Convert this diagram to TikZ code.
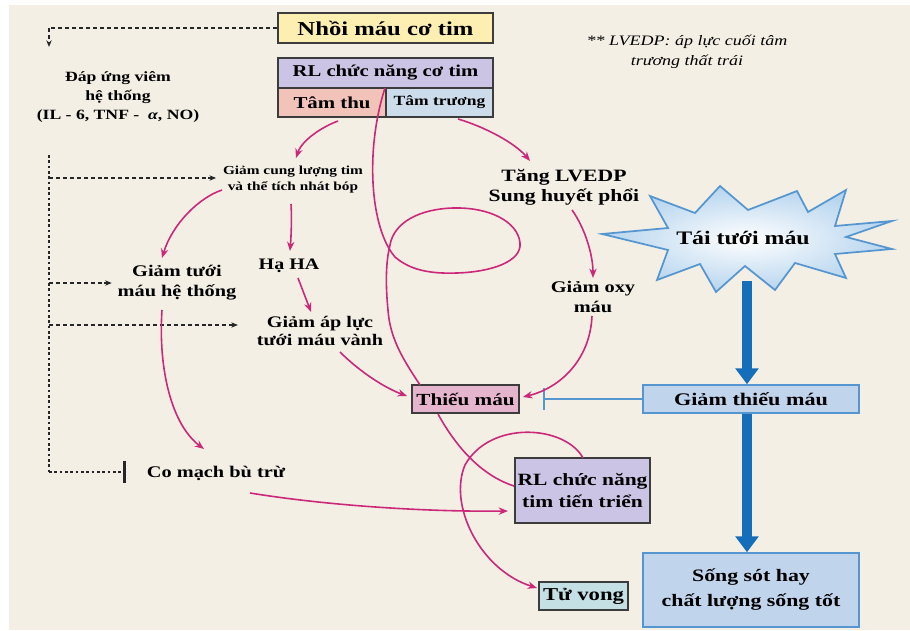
\documentclass[tikz,border=0pt]{standalone}
\usepackage{fontspec}
\setmainfont{Liberation Serif}[FakeStretch=1.25]
\usetikzlibrary{arrows.meta}
\definecolor{bg}{RGB}{243,239,229}
\definecolor{cyel}{RGB}{253,239,178}
\definecolor{clav}{RGB}{203,196,228}
\definecolor{csal}{RGB}{242,195,184}
\definecolor{clb}{RGB}{204,220,234}
\definecolor{cpinkbox}{RGB}{229,181,205}
\definecolor{cteal}{RGB}{196,224,229}
\definecolor{cbluebox}{RGB}{192,212,236}
\definecolor{cbluebord}{RGB}{85,150,208}
\definecolor{cmag}{RGB}{204,40,122}
\definecolor{cbig}{RGB}{20,110,185}
\definecolor{cdark}{RGB}{60,60,60}
\definecolor{csky}{RGB}{182,212,238}
\newcommand\fz[2]{\fontsize{#1pt}{#2pt}\selectfont}
\begin{document}
\begin{tikzpicture}[x=0.75pt,y=-0.75pt,
  box/.style={draw=cdark, line width=1pt, inner sep=0pt, align=center},
  bbox/.style={draw=cbluebord, line width=1.1pt, inner sep=0pt, align=center, fill=cbluebox},
  lbl/.style={inner sep=2pt, align=center},
  pa/.style={draw=cmag, line width=1.2pt, -{Stealth[length=7pt,width=5.5pt]}},
  pl/.style={draw=cmag, line width=1.2pt},
  da/.style={draw=black!85, line width=0.9pt, dash pattern=on 3pt off 2.2pt, -{Stealth[length=5pt,width=4pt]}},
  dl/.style={draw=black!85, line width=0.9pt, dash pattern=on 2pt off 2pt},
  big/.style={draw=cbig, line width=7.5pt, -{Triangle[length=12pt,width=17pt]}},
  bl/.style={draw=cbluebord, line width=1.2pt, -{Bar[width=17pt,line width=1.2pt]}}
]
\useasboundingbox (0,0) rectangle (910,631);
\fill[white] (0,0) rectangle (910,631);
\fill[bg] (9,5) rectangle (910,630);

% starburst
\shade[inner color=white, outer color=csky, draw=cbluebord, line width=1.3pt, line join=miter]
 (602,234) -- (668,228) -- (650,196) -- (695,213) -- (720,186) -- (748,210) -- (797,191)
 -- (808,212) -- (846,190) -- (835,226) -- (892,221) -- (846,237) -- (892,249) -- (835,254)
 -- (846,278) -- (795,263) -- (775,290) -- (745,266) -- (716,292) -- (700,264) -- (657,280)
 -- (668,250) -- cycle;

% boxes
\node[box, fill=cyel, minimum width=161.25pt, minimum height=22.5pt, font=\bfseries\fz{14.8}{17}] (nmct) at (385.5,28) {Nhồi máu cơ tim};
\node[box, fill=clav, minimum width=161.25pt, minimum height=22.5pt, font=\bfseries\fz{12.4}{15}] (rlct) at (385.5,73) {RL chức năng cơ tim};
\node[box, fill=csal, minimum width=81pt, minimum height=21.75pt, font=\bfseries\fz{12.5}{15}] (tthu) at (332,102.5) {Tâm thu};
\node[box, fill=clb, minimum width=80.25pt, minimum height=21.75pt, font=\bfseries\fz{10.5}{13}] (ttruong) at (439.5,102.5) {Tâm trương};
\node[box, fill=cpinkbox, minimum width=80.25pt, minimum height=21pt, font=\bfseries\fz{12.7}{15}] (thieu) at (465.5,399) {Thiếu máu};
\node[bbox, minimum width=162pt, minimum height=21pt, font=\bfseries\fz{13.3}{15}] (gthieu) at (751,399) {Giảm thiếu máu};
\node[box, fill=clav, minimum width=101.25pt, minimum height=48.75pt, font=\bfseries\fz{12.9}{16.5}] (rltt) at (582.5,490.5) {RL chức năng\\tim tiến triển};
\node[box, fill=cteal, minimum width=66.75pt, minimum height=21pt, font=\bfseries\fz{13.6}{15}] (tuvong) at (583.5,596) {Tử vong};
\node[bbox, minimum width=162pt, minimum height=55.5pt, font=\bfseries\fz{13.1}{18.75}] (songsot) at (751,590) {Sống sót hay\\chất lượng sống tốt};

% labels
\node[lbl, font=\bfseries\fz{10.6}{14.5}] (dap) at (118,97) {Đáp ứng viêm\\hệ thống\\(IL - 6, TNF -\ \ \textit{α}, NO)};
\node[lbl, font=\bfseries\fz{9.2}{12}] (gclt) at (293,180) {Giảm cung lượng tim\\và thể tích nhát bóp};
\node[lbl, font=\bfseries\fz{12.2}{15}] (gtmht) at (177,283) {Giảm tưới\\máu hệ thống};
\node[lbl, font=\bfseries\fz{12}{15}] (haha) at (289,266) {Hạ HA};
\node[lbl, font=\bfseries\fz{12.1}{13.8}] (galtmv) at (320,331) {Giảm áp lực\\tưới máu vành};
\node[lbl, font=\bfseries\fz{13}{15}] (tang) at (564,187) {Tăng LVEDP\\Sung huyết phổi};
\node[lbl, font=\bfseries\fz{12.2}{15}] (goxy) at (593,297) {Giảm oxy\\máu};
\node[lbl, font=\bfseries\fz{12.2}{15}] (comach) at (216,473) {Co mạch bù trừ};
\node[lbl, font=\bfseries\fz{14.3}{16}] (ttm) at (743,238) {Tái tưới máu};
\node[lbl, font=\itshape\fz{10.8}{15}] (note) at (687,52) {** LVEDP: áp lực cuối tâm\\trương thất trái};

% coordinates
\coordinate (dtop) at (49,47);
\coordinate (dvt) at (49,155);
\coordinate (dvb) at (49,472);
\coordinate (dv1) at (49,178);
\coordinate (dv2) at (49,283);
\coordinate (dv3) at (49,325);
\coordinate (cmb) at (126,472);
\coordinate (tb) at (543,399);
\coordinate (sbb) at (747,281);
\coordinate (k1) at (395,257);
\coordinate (k2) at (457,273);
\coordinate (k3) at (520,243);
\coordinate (k4) at (453,208);
\coordinate (k5) at (390,245);
\coordinate (k6) at (388,310);
\coordinate (m1) at (465,465);

% dashed black
\draw[da] (nmct.west) -| (dtop);
\draw[dl] (dvt) -- (dvb);
\draw[da] (dv1) -- ([shift={(-4,0)}]dv1 -| gclt.west);
\draw[da] (dv2) -- ([shift={(-3,0)}]dv2 -| gtmht.west);
\draw[da] (dv3) -- ([shift={(-16,0)}]dv3 -| galtmv.west);
\draw[dl, -{Bar[width=17pt,line width=2.2pt]}] (dvb) -- (cmb);

% blue
\draw[bl] (gthieu.west) -- (tb);
\draw[big] (sbb) -- (sbb |- gthieu.north);
\draw[big] (gthieu.south -| sbb) -- (songsot.north -| sbb);

% magenta connectors
\draw[pa] ([shift={(6,18.5)}]tthu.center) .. controls (322,127) and (302,140) .. ([shift={(3,-22)}]gclt.center);
\draw[pa] ([shift={(18.5,16.5)}]ttruong.center) .. controls (485,127) and (515,143) .. ([shift={(-34,-26)}]tang.center);
\draw[pa] ([shift={(-71,10)}]gclt.center) .. controls (198,198) and (172,225) .. ([shift={(-15,-25)}]gtmht.center);
\draw[pa] ([shift={(-2,24)}]gclt.center) .. controls (292,220) and (291,238) .. ([shift={(1,-15)}]haha.center);
\draw[pa] ([shift={(9,12)}]haha.center) -- ([shift={(-9,-19)}]galtmv.center);
\draw[pa] ([shift={(20,21)}]galtmv.center) .. controls (360,372) and (385,388) .. ([shift={(-58.5,-3)}]thieu.center);
\draw[pa] ([shift={(-15,27)}]gtmht.center) .. controls (158,370) and (172,425) .. ([shift={(-12,-24)}]comach.center);
\draw[pa] ([shift={(8,23)}]tang.center) .. controls (585,228) and (593,255) .. ([shift={(0,-19)}]goxy.center);
\draw[pa] ([shift={(-1,19)}]goxy.center) .. controls (590,360) and (560,388) .. ([shift={(57.5,-2)}]thieu.center);
\draw[pa] ([shift={(34,20)}]comach.center) .. controls (330,506) and (430,512) .. ([shift={(-74.5,20.5)}]rltt.center);
\draw[pl] ([shift={(-0.5,15)}]rlct.center) .. controls (365,150) and (370,228) .. (k1)
  .. controls (410,270) and (430,274) .. (k2)
  .. controls (490,272) and (522,262) .. (k3)
  .. controls (518,222) and (490,207) .. (k4)
  .. controls (420,209) and (394,222) .. (k5)
  .. controls (385,265) and (386,290) .. (k6)
  .. controls (390,340) and (405,362) .. ([shift={(-45.5,-14)}]thieu.center);
\draw[pl] ([shift={(-27.5,15)}]thieu.center) .. controls (455,445) and (480,475) .. ([shift={(-68.5,-4.5)}]rltt.center);
\draw[pa] ([shift={(0.5,-32.5)}]rltt.center) .. controls (565,425) and (490,420) .. (m1)
  .. controls (448,505) and (480,570) .. ([shift={(-46.5,-8)}]tuvong.center);
\end{tikzpicture}
\end{document}
